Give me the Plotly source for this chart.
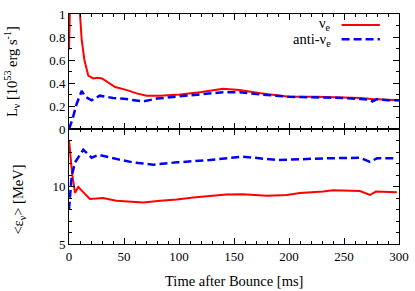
import plotly.graph_objects as go

# Luminosity panel (10^53 erg/s)
t_lum_e = [0, 1, 3, 6, 9, 10, 11.5, 14, 17.5, 22, 26, 30, 36, 42, 52, 61.5, 70.6, 82.7, 101, 119, 140, 155, 174, 200, 225, 250, 265, 275, 285, 300]
lum_e = [0.69, 1.4, 2.0, 1.6, 1.15, 1.0, 0.78, 0.6, 0.465, 0.44, 0.445, 0.44, 0.40, 0.365, 0.34, 0.31, 0.29, 0.29, 0.30, 0.32, 0.35, 0.34, 0.31, 0.28, 0.28, 0.275, 0.27, 0.26, 0.255, 0.25]
t_lum_a = [0, 3, 7, 11.5, 15, 20.6, 28, 40, 52, 67.5, 80, 98, 119, 140, 155, 174, 200, 225, 250, 265, 272, 276, 280, 290, 300]
lum_a = [0.0, 0.08, 0.22, 0.33, 0.28, 0.25, 0.29, 0.27, 0.26, 0.24, 0.265, 0.28, 0.30, 0.32, 0.32, 0.30, 0.28, 0.275, 0.27, 0.26, 0.255, 0.24, 0.26, 0.25, 0.25]

# Mean energy panel (MeV)
t_en_e = [0, 3, 5.5, 8.5, 12, 19, 31, 43, 67.5, 83, 98, 113, 143, 158, 180, 198, 210, 231, 240, 264.5, 273.6, 279, 298]
en_e = [14.06, 11.0, 9.45, 9.97, 9.6, 8.92, 9.0, 8.77, 8.6, 8.77, 8.86, 9.04, 9.3, 9.32, 9.2, 9.26, 9.44, 9.56, 9.68, 9.6, 9.26, 9.56, 9.5]
t_en_a = [0, 2.4, 5.5, 13, 20.6, 26.7, 43, 58, 76.6, 98, 128, 158, 189, 210, 234, 264.5, 273.6, 280, 298]
en_a = [7.98, 10.9, 12.1, 13.2, 12.5, 12.75, 12.4, 12.1, 11.9, 12.1, 12.3, 12.6, 12.3, 12.4, 12.45, 12.5, 12.14, 12.45, 12.45]

RED = "#ff0000"
BLUE = "#0000ff"
FONT = "Liberation Serif, Times New Roman, serif"
TICK = 13
TITLE = 14.5

fig = go.Figure()
fig.add_trace(go.Scatter(x=t_lum_e, y=lum_e, mode="lines", line=dict(color=RED, width=2), xaxis="x2", yaxis="y2", showlegend=False))
fig.add_trace(go.Scatter(x=t_lum_a, y=lum_a, mode="lines", line=dict(color=BLUE, width=2.5, dash="8px,4px"), xaxis="x2", yaxis="y2", showlegend=False))
fig.add_trace(go.Scatter(x=t_en_e, y=en_e, mode="lines", line=dict(color=RED, width=2), xaxis="x", yaxis="y", showlegend=False))
fig.add_trace(go.Scatter(x=t_en_a, y=en_a, mode="lines", line=dict(color=BLUE, width=2.5, dash="8px,4px"), xaxis="x", yaxis="y", showlegend=False))

def ax(**kw):
    d = dict(showline=True, linecolor="black", linewidth=1, mirror="ticks", ticks="inside",
             ticklen=6, tickcolor="black", showgrid=False, zeroline=False, automargin=False,
             ticklabeloverflow="allow",
             tickfont=dict(family=FONT, size=TICK, color="black"))
    d.update(kw)
    return d

fig.update_layout(
    width=415, height=291,
    margin=dict(l=69, r=16, t=14, b=47),
    paper_bgcolor="white", plot_bgcolor="white",
    font=dict(family=FONT, size=TICK, color="black"),
    xaxis=ax(range=[0, 300], dtick=50, domain=[0, 1], anchor="y",
             minor=dict(dtick=10, ticklen=3, ticks="inside", tickcolor="black")),
    xaxis2=ax(range=[0, 300], dtick=50, domain=[0, 1], anchor="y2", showticklabels=False,
              minor=dict(dtick=10, ticklen=3, ticks="inside", tickcolor="black")),
    yaxis=ax(range=[5, 15], domain=[0, 0.5], anchor="x", tickvals=[5, 10], ticktext=["5", "10"],
             minor=dict(dtick=1, ticklen=3, ticks="inside", tickcolor="black")),
    yaxis2=ax(range=[0, 1], domain=[0.5, 1], dtick=0.2, anchor="x2",
              minor=dict(dtick=0.1, ticklen=3, ticks="inside", tickcolor="black")),
)

# Axis titles
fig.add_annotation(xref="paper", yref="paper", x=0.5, y=-0.16, text="Time after Bounce [ms]",
                   showarrow=False, xanchor="center", yanchor="middle", font=dict(family=FONT, size=TITLE))
fig.add_annotation(xref="paper", yref="paper", x=-0.174, y=0.75,
                   text="L<sub>ν</sub> [10<sup>53</sup> erg s<sup>-1</sup>]",
                   showarrow=False, textangle=-90, xanchor="center", yanchor="middle", font=dict(family=FONT, size=TITLE))
fig.add_annotation(xref="paper", yref="paper", x=-0.15, y=0.191,
                   text="&lt;ε<sub>ν</sub>&gt; [MeV]",
                   showarrow=False, textangle=-90, xanchor="center", yanchor="middle", font=dict(family=FONT, size=TITLE))

# Legend (manual, text left of sample line)
fig.add_annotation(xref="paper", yref="paper", x=0.8, y=0.955, text="ν<sub>e</sub>", showarrow=False,
                   xanchor="right", yanchor="middle", font=dict(family=FONT, size=TITLE))
fig.add_annotation(xref="paper", yref="paper", x=0.8, y=0.885, text="anti-ν<sub>e</sub>", showarrow=False,
                   xanchor="right", yanchor="middle", font=dict(family=FONT, size=TITLE))
fig.add_shape(type="line", xref="paper", yref="paper", x0=0.826, x1=0.942, y0=0.952, y1=0.952,
              line=dict(color=RED, width=2))
fig.add_shape(type="line", xref="paper", yref="paper", x0=0.826, x1=0.942, y0=0.89, y1=0.89,
              line=dict(color=BLUE, width=2.5, dash="8px,4px"))

# remove the browser's default 8px body margin so the figure sits at the window origin
fig.write_html("out.html", config={"displayModeBar": False},
               post_script="document.body.style.margin='0';")
